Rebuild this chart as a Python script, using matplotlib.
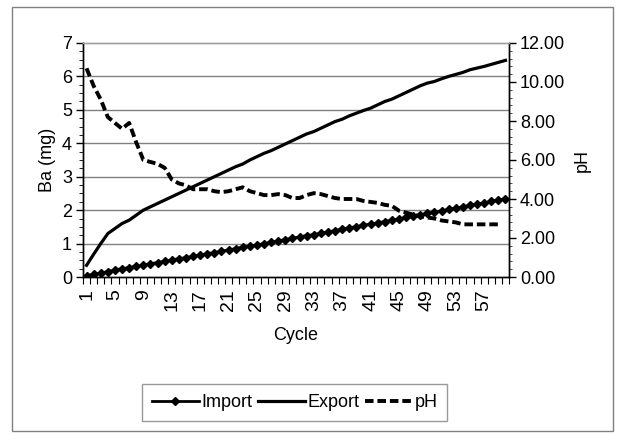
import matplotlib
matplotlib.use("Agg")
import matplotlib.pyplot as plt
from matplotlib.patches import Rectangle
from matplotlib.ticker import AutoMinorLocator, FixedLocator

plt.rcParams['font.family'] = ['Liberation Sans', 'DejaVu Sans']

cycles = list(range(1, 61))

import_mg = [0.04, 0.08, 0.12, 0.16, 0.21, 0.25, 0.28, 0.32, 0.36, 0.40,
             0.43, 0.47, 0.51, 0.55, 0.58, 0.62, 0.66, 0.70, 0.73, 0.77,
             0.81, 0.85, 0.89, 0.92, 0.96, 1.00, 1.04, 1.08, 1.12, 1.16,
             1.20, 1.24, 1.27, 1.31, 1.35, 1.39, 1.43, 1.47, 1.51, 1.55,
             1.58, 1.62, 1.66, 1.70, 1.74, 1.78, 1.82, 1.86, 1.90, 1.94,
             1.98, 2.02, 2.06, 2.10, 2.14, 2.18, 2.22, 2.26, 2.30, 2.34]

export_mg = [0.35, 0.68, 1.00, 1.30, 1.45, 1.60, 1.70, 1.85, 2.00, 2.10,
             2.20, 2.30, 2.40, 2.50, 2.60, 2.70, 2.80, 2.90, 3.00, 3.10,
             3.20, 3.30, 3.38, 3.50, 3.60, 3.70, 3.78, 3.88, 3.98, 4.08,
             4.18, 4.28, 4.35, 4.45, 4.55, 4.65, 4.72, 4.82, 4.90, 4.98,
             5.05, 5.15, 5.25, 5.32, 5.42, 5.52, 5.62, 5.72, 5.80, 5.85,
             5.93, 6.00, 6.06, 6.12, 6.20, 6.25, 6.30, 6.36, 6.42, 6.48]

ph = [10.7, 9.8, 9.1, 8.2, 7.9, 7.6, 7.9, 6.9, 6.0, 5.9,
      5.8, 5.6, 5.0, 4.8, 4.7, 4.5, 4.5, 4.5, 4.4, 4.35,
      4.4, 4.5, 4.6, 4.4, 4.3, 4.2, 4.2, 4.25, 4.2, 4.05,
      4.05, 4.2, 4.3, 4.25, 4.15, 4.05, 4.0, 4.0, 4.0, 3.9,
      3.85, 3.8, 3.7, 3.65, 3.4, 3.3, 3.2, 3.1, 3.05, 3.0,
      2.9, 2.85, 2.8, 2.7, 2.7, 2.7, 2.7, 2.7, 2.7]

W, H = 617, 433
fig = plt.figure(figsize=(W / 100, H / 100), dpi=100)
fig.patch.set_facecolor('white')

# outer chart frame
fig.patches.append(Rectangle((12 / W, 1 - 431 / H), (613 - 12) / W, (431 - 7) / H,
                             transform=fig.transFigure, fill=False,
                             edgecolor='#808080', linewidth=1.0))

left, right, top, bottom = 83, 509, 43, 277
ax = fig.add_axes([left / W, 1 - bottom / H, (right - left) / W, (bottom - top) / H])
ax2 = ax.twinx()

pos = list(range(len(cycles)))
ax.set_xlim(-0.5, len(cycles) - 0.5)
ax.set_ylim(0, 7)
ax2.set_ylim(0, 12)

# horizontal gridlines
for v in range(1, 7):
    ax.axhline(v, color='#808080', linewidth=1.0, zorder=0)

l1, = ax.plot(pos, import_mg, color='black', linewidth=2.0, marker='D',
              markersize=4.5, label='Import', zorder=3)
l2, = ax.plot(pos, export_mg, color='black', linewidth=2.3, label='Export', zorder=3)
l3, = ax2.plot(pos[:len(ph)], ph, color='black', linewidth=2.8,
               linestyle=(0, (2.2, 1.0)), dash_capstyle='butt', label='pH', zorder=3)

# spines
for a in (ax, ax2):
    a.spines['top'].set_color('#a0a0a0')
    a.spines['top'].set_linestyle((0, (1, 1)))
    a.spines['top'].set_linewidth(1.0)
    a.spines['left'].set_linewidth(1.0)
    a.spines['right'].set_linewidth(1.0)
    a.spines['bottom'].set_linewidth(1.0)

# x axis: category labels every 4th cycle, tick marks between categories
ax.set_xticks(pos[::4])
ax.set_xticklabels([str(c) for c in cycles[::4]], rotation=90, fontsize=14)
ax.tick_params(axis='x', which='major', length=0, pad=9)
ax.xaxis.set_minor_locator(FixedLocator([p - 0.5 for p in pos] + [len(pos) - 0.5]))
ax.tick_params(axis='x', which='minor', length=5, width=0.8, color='black')

# left axis
ax.set_yticks(range(0, 8))
ax.yaxis.set_minor_locator(AutoMinorLocator(4))
ax.tick_params(axis='y', which='major', length=5, width=1.0, labelsize=13, pad=3)
ax.tick_params(axis='y', which='minor', length=3, width=0.6)
ax.set_ylabel('Ba (mg)', fontsize=13, labelpad=4)

# right axis
ax2.set_yticks(range(0, 13, 2))
ax2.set_yticklabels(['%.2f' % v for v in range(0, 13, 2)])
ax2.yaxis.set_minor_locator(AutoMinorLocator(5))
ax2.tick_params(axis='y', which='major', length=5, width=1.0, labelsize=13, pad=3)
ax2.tick_params(axis='y', which='minor', length=2, width=0.5)
ax2.set_ylabel('pH', fontsize=13, labelpad=6)

ax.set_xlabel('Cycle', fontsize=13, labelpad=11)

leg = fig.legend([l1, l2, l3], ['Import', 'Export', 'pH'], ncol=3,
                 loc='center', bbox_to_anchor=(294.5 / W, 1 - 402.5 / H),
                 fontsize=13, frameon=True, fancybox=False, handlelength=2.6,
                 handletextpad=0.15, columnspacing=0.3, borderpad=0.55,
                 borderaxespad=0)
leg.get_frame().set_edgecolor('#808080')
leg.get_frame().set_linewidth(1.0)

fig.savefig('out.png', dpi=100, facecolor='white')
